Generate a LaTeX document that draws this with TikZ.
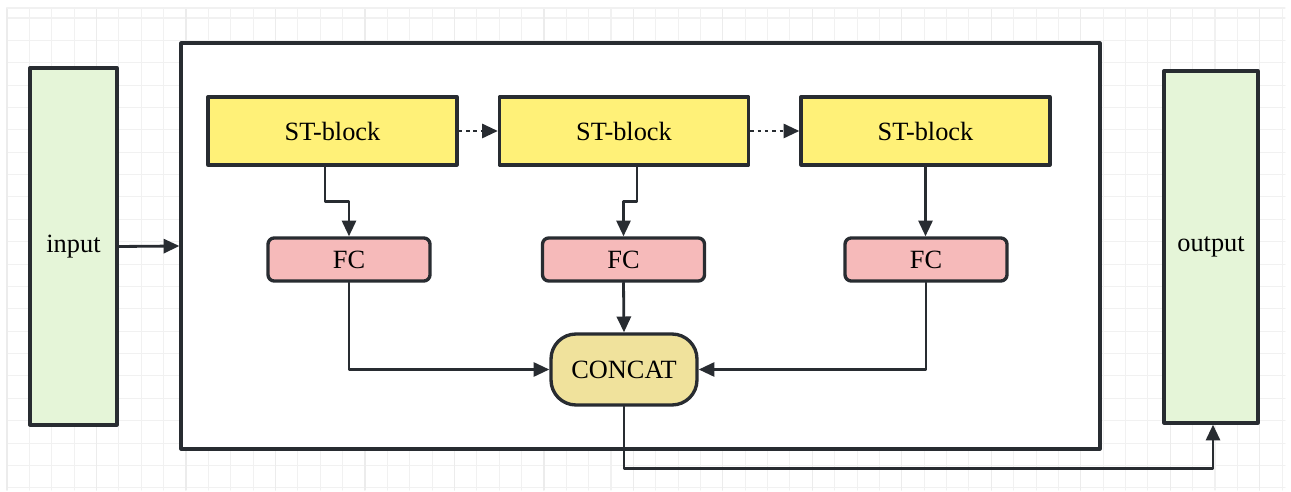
\documentclass[tikz,border=0pt]{standalone}
\usepackage{fontspec}
\setmainfont{Liberation Serif}
\usetikzlibrary{arrows.meta}
\definecolor{stylw}{RGB}{255,241,120}
\definecolor{fcpink}{RGB}{246,186,186}
\definecolor{catsand}{RGB}{240,226,156}
\definecolor{iogreen}{RGB}{229,245,216}
\definecolor{edgegray}{RGB}{40,44,49}
\definecolor{gridminor}{RGB}{241,241,241}
\definecolor{gridmajor}{RGB}{236,236,236}

\begin{document}
\begin{tikzpicture}[x=0.02cm,y=-0.02cm, line cap=round, line join=round]

\tikzset{
  box/.style={draw=edgegray, line width=1.9pt, font=\fontsize{15}{17}\selectfont, inner sep=0pt},
  stblock/.style={box, fill=stylw, minimum width=4.98cm, minimum height=1.36cm},
  fcbox/.style={box, fill=fcpink, rounded corners=3.5pt, minimum width=3.24cm, minimum height=0.86cm},
  catbox/.style={box, fill=catsand, rounded corners=0.5cm, minimum width=2.92cm, minimum height=1.42cm},
  iobox/.style={box, fill=iogreen},
  conn/.style={draw=edgegray, line width=1.6pt, -{Triangle[length=9pt,width=8pt]}},
  dotconn/.style={conn, line cap=butt, dash pattern=on 2pt off 2.2pt}
}

\useasboundingbox (0,0) rectangle (1291,492);

% background grid
\fill[white] (0,0) rectangle (1291,492);
\foreach \k in {0,...,57}
  \draw[gridminor, line width=0.6pt] (7+\k*22.37,8) -- (7+\k*22.37,490);
\foreach \k in {0,...,21}
  \draw[gridminor, line width=0.6pt] (7,18+\k*22.37) -- (1285,18+\k*22.37);
\foreach \k in {0,4,...,56}
  \draw[gridmajor, line width=0.7pt] (7+\k*22.37,8) -- (7+\k*22.37,490);
\draw[gridminor, line width=0.6pt] (7,8) -- (1285,8);

% outer frame
\node[box, fill=white, minimum width=18.38cm, minimum height=8.12cm] (frame) at (640.5,246) {};

\node[iobox, minimum width=1.74cm, minimum height=7.14cm] (input) at (73.5,246.5) {input};
\node[iobox, minimum width=1.88cm, minimum height=7.04cm] (output) at (1211,247) {output};

\node[stblock] (st1) at (332.5,131) {ST-block};
\node[stblock] (st2) at (624,131) {ST-block};
\node[stblock] (st3) at (925.5,131) {ST-block};

\node[fcbox] (fc1) at (349,259.5) {FC};
\node[fcbox] (fc2) at (623.5,259.5) {FC};
\node[fcbox] (fc3) at (926,259.5) {FC};

\node[catbox] (concat) at (624,369.5) {CONCAT};

\draw[conn] (input.east) -- (frame.west);

\draw[dotconn] (st1.east) -- (st2.west);
\draw[dotconn] (st2.east) -- (st3.west);

\draw[conn] ([xshift=-0.15cm]st1.south) -- ++(0,35) -| (fc1.north);
\draw[conn] ([xshift=0.26cm]st2.south) -- ++(0,35) -| (fc2.north);
\draw[conn] (st3.south) -- (st3.south |- fc3.north);

\draw[conn] (fc1.south) |- (concat.west);
\draw[conn] (fc2.south) -- (concat.north);
\draw[conn] (fc3.south) |- (concat.east);

\draw[conn] (concat.south) -- ++(0,62) -| ([xshift=0.04cm]output.south);

\end{tikzpicture}
\end{document}
